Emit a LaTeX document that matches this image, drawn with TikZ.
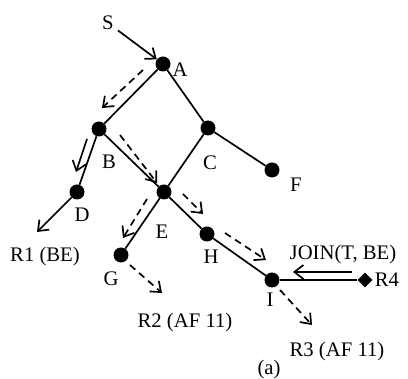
\documentclass[tikz,border=0pt]{standalone}
\usepackage{fontspec}
\setmainfont{Liberation Serif}
\usetikzlibrary{arrows.meta,shapes.geometric}
\begin{document}
\begin{tikzpicture}[x=1pt,y=-1pt,
  dot/.style={circle,fill=black,inner sep=0pt,minimum size=15pt},
  lbl/.style={inner sep=0pt,font=\fontsize{20.7}{24}\selectfont},
  edge/.style={line width=1.7pt},
  arr/.style={line width=1.7pt,-{Straight Barb[length=9pt,width=14pt]}},
  darr/.style={arr,dash pattern=on 7pt off 5pt},
]
\useasboundingbox (0,0) rectangle (408,379);
% nodes
\node[dot] (A) at (163,64) {};
\node[dot] (B) at (99,129) {};
\node[dot] (C) at (208,128) {};
\node[dot] (D) at (77,192) {};
\node[dot] (E) at (164,192) {};
\node[dot] (F) at (272,170) {};
\node[dot] (G) at (121,255) {};
\node[dot] (H) at (207,234) {};
\node[dot] (I) at (272,280) {};
\node[diamond,fill=black,inner sep=0pt,minimum size=15pt] (R4d) at (365,280) {};
% edges
\draw[edge] (A) -- (B);
\draw[edge] (A) -- (C);
\draw[edge] (B) -- (D);
\draw[edge] (B) -- (E);
\draw[edge] (C) -- (E);
\draw[edge] (C) -- (F);
\draw[edge] (E) -- (G);
\draw[edge] (E) -- (H);
\draw[edge] (H) -- (I);
\draw[edge] (I) -- (R4d);
% labels
\node[lbl] (S) at (108,23) {S};
\node[lbl] (lA) at (180,70) {A};
\node[lbl] (lB) at (109,162) {B};
\node[lbl] (lC) at (210,163) {C};
\node[lbl] (lD) at (82,215) {D};
\node[lbl] (lE) at (162,232) {E};
\node[lbl] (lF) at (296,185) {F};
\node[lbl] (lG) at (111,279) {G};
\node[lbl] (lH) at (211,257) {H};
\node[lbl] (lI) at (270,300) {I};
\node[lbl] (lR4) at (387,280) {R4};
\node[lbl] (R1) at (45,257) {R1 (BE)};
\node[lbl] (R2) at (185,323) {R2 (AF 11)};
\node[lbl] (R3) at (337,352) {R3 (AF 11)};
\node[lbl] (join) at (343,255) {JOIN(T, BE)};
\node[lbl] (cap) at (269,370) {(a)};
% coordinates
\coordinate (r1) at (37,232);
\coordinate (bd1) at (87,139);
\coordinate (bd2) at (76,172);
\coordinate (ab1) at (143,70);
\coordinate (ab2) at (102,108);
\coordinate (be1) at (120,135);
\coordinate (be2) at (157,183);
\coordinate (eg1) at (147,199);
\coordinate (eg2) at (123,238);
\coordinate (eh1) at (183,194);
\coordinate (eh2) at (203,214);
\coordinate (hi1) at (225,233);
\coordinate (hi2) at (266,260);
\coordinate (g1) at (130,265);
\coordinate (g2) at (162,293);
\coordinate (i1) at (280,290);
\coordinate (i2) at (312,325);
\coordinate (j1) at (352,272);
\coordinate (j2) at (293,272);
% arrows
\draw[arr,shorten <=5pt] (S) -- (A);
\draw[arr] (D) -- (r1);
\draw[arr] (bd1) -- (bd2);
\draw[arr] (j1) -- (j2);
\draw[darr] (ab1) -- (ab2);
\draw[darr] (be1) -- (be2);
\draw[darr] (eg1) -- (eg2);
\draw[darr] (eh1) -- (eh2);
\draw[darr] (hi1) -- (hi2);
\draw[darr] (g1) -- (g2);
\draw[darr] (i1) -- (i2);
\end{tikzpicture}
\end{document}
